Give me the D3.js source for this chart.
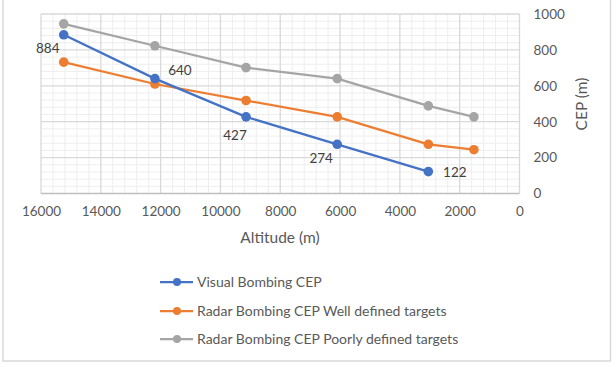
<!DOCTYPE html>
<html><head><meta charset="utf-8">
<script src="https://cdn.jsdelivr.net/npm/d3@7"></script>
<style>
html,body{margin:0;padding:0;background:#fff;}
svg{display:block;font-family:Lato,"Open Sans",sans-serif;}
</style></head>
<body>
<svg id="chart" width="616" height="367"></svg>
<script>
const altitudes = [15240, 12192, 9144, 6096, 3048, 1524];
const visualCEP = [884, 640, 427, 274, 122];
const radarWellCEP = [732, 610, 518, 427, 274, 244];
const radarPoorCEP = [945, 823, 701, 640, 488, 427];
const seriesNames = ["Visual Bombing CEP", "Radar Bombing CEP Well defined targets", "Radar Bombing CEP Poorly defined targets"];
const seriesColors = ["#4472C4", "#ED7D31", "#A5A5A5"];
const xTicks = [16000, 14000, 12000, 10000, 8000, 6000, 4000, 2000, 0];
const yTicks = [0, 200, 400, 600, 800, 1000];
const xTitle = "Altitude (m)";
const yTitle = "CEP (m)";

const svg = d3.select("#chart");
const x = d3.scaleLinear().domain([16000, 0]).range([41, 519.5]);
const y = d3.scaleLinear().domain([0, 1000]).range([193.5, 14]);

// border
svg.append("rect").attr("x", 3).attr("y", -5).attr("width", 607.5).attr("height", 366)
  .attr("fill", "#fff").attr("stroke", "#d9d9d9").attr("stroke-width", 1.5);

// minor grid
const xMinor = d3.range(0, 16001, 400).filter(v => v % 2000 !== 0);
const yMinor = d3.range(0, 1001, 40).filter(v => v % 200 !== 0);
const g = svg.append("g");
g.selectAll(".xm").data(xMinor).join("line")
  .attr("x1", d => x(d)).attr("x2", d => x(d)).attr("y1", y(0)).attr("y2", y(1000))
  .attr("stroke", "#eeeeee").attr("stroke-width", 1);
g.selectAll(".ym").data(yMinor).join("line")
  .attr("x1", x(16000)).attr("x2", x(0)).attr("y1", d => y(d)).attr("y2", d => y(d))
  .attr("stroke", "#eeeeee").attr("stroke-width", 1);
// major grid
g.selectAll(".xM").data(xTicks).join("line")
  .attr("x1", d => x(d)).attr("x2", d => x(d)).attr("y1", y(0)).attr("y2", y(1000))
  .attr("stroke", "#d9d9d9").attr("stroke-width", 1.3);
g.selectAll(".yM").data(yTicks).join("line")
  .attr("x1", x(16000)).attr("x2", x(0)).attr("y1", d => y(d)).attr("y2", d => y(d))
  .attr("stroke", d => d === 0 ? "#bfbfbf" : "#d9d9d9").attr("stroke-width", 1.3);

// axes labels via d3 axes
const xAxis = svg.append("g").attr("transform", `translate(0,${y(0)})`)
  .call(d3.axisBottom(x).tickValues(xTicks).tickSize(0).tickPadding(13).tickFormat(d3.format("d")));
xAxis.select(".domain").remove();
xAxis.selectAll("text").attr("fill", "#595959").style("font-size", "13.5px").style("font-family", "Lato");

const yAxis = svg.append("g").attr("transform", `translate(${x(0)},0)`)
  .call(d3.axisRight(y).tickValues(yTicks).tickSize(0).tickPadding(14).tickFormat(d3.format("d")));
yAxis.select(".domain").remove();
yAxis.selectAll("text").attr("fill", "#595959").style("font-size", "13.5px").style("font-family", "Lato");

svg.append("text").attr("x", 280).attr("y", 243).attr("text-anchor", "middle")
  .attr("fill", "#595959").style("font-size", "15.5px").text(xTitle);
svg.append("text").attr("transform", "translate(587,104) rotate(-90)").attr("text-anchor", "middle")
  .attr("fill", "#595959").style("font-size", "15.5px").text(yTitle);

// series
const series = [visualCEP, radarWellCEP, radarPoorCEP].map((vals, i) => ({
  name: seriesNames[i], color: seriesColors[i],
  pts: vals.map((v, j) => ({x: altitudes[j], y: v}))
}));
const line = d3.line().x(d => x(d.x)).y(d => y(d.y));
const order = [2, 1, 0];
order.forEach(i => {
  const s = series[i];
  svg.append("path").attr("d", line(s.pts)).attr("fill", "none")
    .attr("stroke", s.color).attr("stroke-width", 2.25).attr("stroke-linejoin", "round");
  svg.selectAll(null).data(s.pts).join("circle")
    .attr("cx", d => x(d.x)).attr("cy", d => y(d.y)).attr("r", 4.8).attr("fill", s.color);
});

// data labels for visual series
const labelOffsets = [[-16, 13], [25, -8], [-11, 18.5], [-16, 14], [26.5, 1]];
svg.selectAll(null).data(series[0].pts).join("text")
  .attr("x", (d, i) => x(d.x) + labelOffsets[i][0])
  .attr("y", (d, i) => y(d.y) + labelOffsets[i][1])
  .attr("dy", "0.35em").attr("text-anchor", "middle")
  .attr("fill", "#404040").style("font-size", "13.5px")
  .text(d => d.y);

// legend
const legY = [282, 311, 339];
series.forEach((s, i) => {
  const lg = svg.append("g").attr("transform", `translate(0,${legY[i]})`);
  lg.append("line").attr("x1", 160).attr("x2", 193).attr("y1", 0).attr("y2", 0)
    .attr("stroke", s.color).attr("stroke-width", 2.25);
  lg.append("circle").attr("cx", 177).attr("cy", 0).attr("r", 4).attr("fill", s.color);
  lg.append("text").attr("x", 197).attr("y", 0).attr("dy", "0.35em")
    .attr("fill", "#595959").style("font-size", "14px").text(s.name);
});
</script>
</body></html>
